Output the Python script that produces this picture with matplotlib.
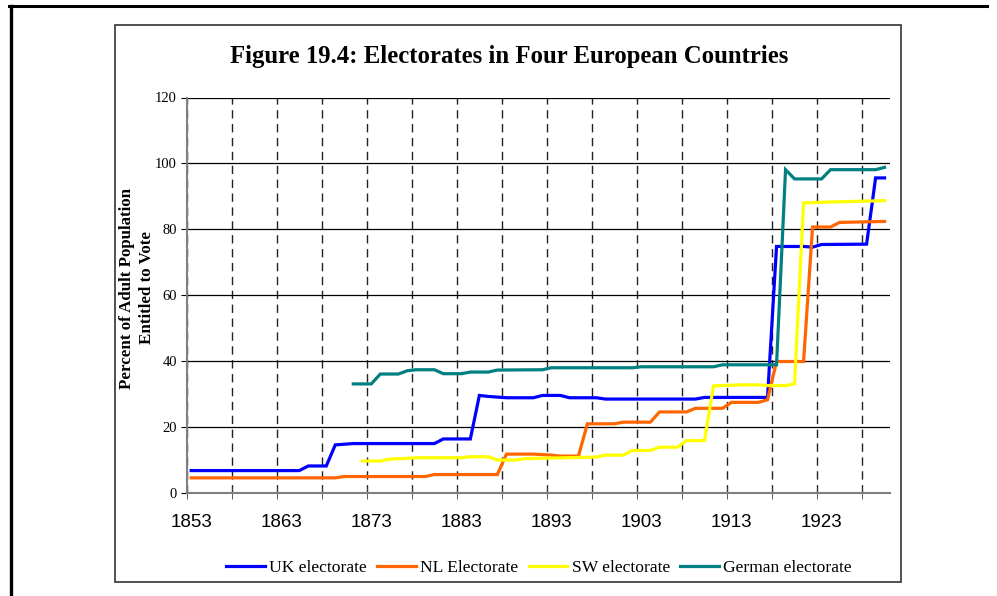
import matplotlib
matplotlib.use("Agg")
import matplotlib.pyplot as plt
from matplotlib.lines import Line2D
from matplotlib.patches import Rectangle

# --- data (year, percent of adult population) ---
uk_years = [1853, 1865, 1866, 1868, 1869, 1871, 1880, 1881, 1884, 1885, 1886, 1888,
            1891, 1892, 1894, 1895, 1898, 1899, 1909, 1910, 1917, 1918, 1921, 1922,
            1923, 1928, 1929, 1930]
uk_vals = [6.8, 6.8, 8.2, 8.2, 14.6, 15.0, 15.0, 16.4, 16.4, 29.6, 29.3, 28.9,
           28.9, 29.6, 29.6, 28.9, 28.9, 28.5, 28.5, 29.0, 29.0, 74.8, 74.8, 74.6,
           75.4, 75.5, 95.6, 95.6]

nl_years = [1853, 1869, 1870, 1879, 1880, 1887, 1888, 1891, 1893, 1894, 1896, 1897,
            1900, 1901, 1904, 1905, 1908, 1909, 1912, 1913, 1916, 1917, 1918, 1921,
            1922, 1924, 1925, 1930]
nl_vals = [4.6, 4.6, 5.0, 5.0, 5.6, 5.6, 11.8, 11.8, 11.5, 11.2, 11.2, 21.0,
           21.0, 21.5, 21.5, 24.6, 24.6, 25.7, 25.7, 27.5, 27.5, 28.3, 39.9, 39.9,
           80.7, 80.7, 82.1, 82.4]

sw_years = [1872, 1874, 1875, 1877, 1878, 1883, 1884, 1886, 1887, 1889, 1890, 1891,
            1893, 1898, 1899, 1901, 1902, 1904, 1905, 1907, 1908, 1910, 1911, 1914,
            1916, 1917, 1919, 1920, 1921, 1924, 1930]
sw_vals = [9.7, 9.7, 10.3, 10.5, 10.7, 10.7, 11.0, 11.0, 10.0, 10.0, 10.4, 10.5,
           10.6, 10.9, 11.5, 11.5, 12.9, 12.9, 13.9, 13.9, 15.9, 15.9, 32.5, 32.8,
           32.8, 32.6, 32.6, 33.1, 88.0, 88.3, 88.7]

de_years = [1871, 1873, 1874, 1876, 1877, 1878, 1880, 1881, 1883, 1884, 1886, 1887,
            1892, 1893, 1902, 1903, 1911, 1912, 1918, 1919, 1920, 1923, 1924, 1929,
            1930]
de_vals = [33.1, 33.1, 36.1, 36.1, 37.1, 37.4, 37.4, 36.2, 36.2, 36.7, 36.7, 37.3,
           37.4, 38.0, 38.0, 38.3, 38.3, 38.9, 38.9, 98.1, 95.3, 95.3, 98.1, 98.1,
           98.8]

series_names = ["UK electorate", "NL Electorate", "SW electorate", "German electorate"]
series_colors = ["#0000FF", "#FF6600", "#FFFF00", "#008080"]
label_years = [1853, 1863, 1873, 1883, 1893, 1903, 1913, 1923]
y_ticks = [0, 20, 40, 60, 80, 100, 120]

SERIF = "Liberation Serif"
SANS = "Liberation Sans"

fig = plt.figure(figsize=(9.97, 5.96), dpi=100, facecolor="white")
W, H = 997, 596

# outer page border (top and left only) and the chart frame
fig.add_artist(Line2D([9 / W, 987 / W], [1 - 6 / H, 1 - 6 / H], color="black", lw=2.2))
fig.add_artist(Line2D([10.5 / W, 10.5 / W], [0, 1 - 6 / H], color="black", lw=2.4))
fig.add_artist(Rectangle((115 / W, 1 - 582 / H), (901 - 115) / W, (582 - 25) / H,
                         fill=False, edgecolor="#333333", lw=1.2))

ax = fig.add_axes([186.7 / W, 1 - 493 / H, (890 - 186.7) / W, (493 - 97.5) / H])

all_series = [(uk_years, uk_vals), (nl_years, nl_vals), (sw_years, sw_vals), (de_years, de_vals)]
for (xs, ys), name, col in zip(all_series, series_names, series_colors):
    ax.plot(xs, ys, color=col, lw=2.3, label=name, solid_joinstyle="miter", zorder=3)

ax.set_xlim(1852.5, 1930.6)
ax.set_ylim(0, 120)

# category labels centred on the years, tick marks every 5 categories
ax.set_xticks(label_years)
ax.set_xticklabels([str(y) for y in label_years], fontfamily=SANS, fontsize=13.5)
ax.set_xticks([1852.5 + 5 * k for k in range(16)], minor=True)
ax.tick_params(axis="x", which="major", length=0, pad=15)
ax.tick_params(axis="x", which="minor", direction="inout", length=8, color="#404040")
ax.xaxis.grid(True, which="minor", color="#222222", lw=1.0, linestyle=(0, (6, 4)))

ax.set_yticks(y_ticks)
ax.set_yticklabels([str(v) for v in y_ticks], fontfamily=SERIF, fontsize=10.5)
ax.tick_params(axis="y", length=4, color="black", pad=3)
ax.yaxis.grid(True, color="black", lw=0.9)
ax.set_axisbelow(True)

for side in ["top", "right"]:
    ax.spines[side].set_visible(False)
for side in ["left", "bottom"]:
    ax.spines[side].set_color("#808080")
    ax.spines[side].set_linewidth(1.5)
    ax.spines[side].set_zorder(4)

fig.text(137 / W, 1 - 288 / H, "Percent of Adult Population\nEntitled to Vote",
         rotation=90, ha="center", va="center", multialignment="center",
         linespacing=1.3, fontfamily=SERIF, fontweight="bold", fontsize=12.2)

fig.text(509.5 / W, 1 - 57 / H, "Figure 19.4: Electorates in Four European Countries",
         ha="center", va="center", fontfamily=SERIF, fontweight="bold", fontsize=17.8)

leg = fig.legend(loc="center", bbox_to_anchor=(539 / W, 1 - 568 / H), ncol=4,
                 frameon=False, prop={"family": SERIF, "size": 12.6},
                 handlelength=2.2, handletextpad=0.25, columnspacing=0.6)

fig.savefig("out.png", dpi=100, facecolor="white")
